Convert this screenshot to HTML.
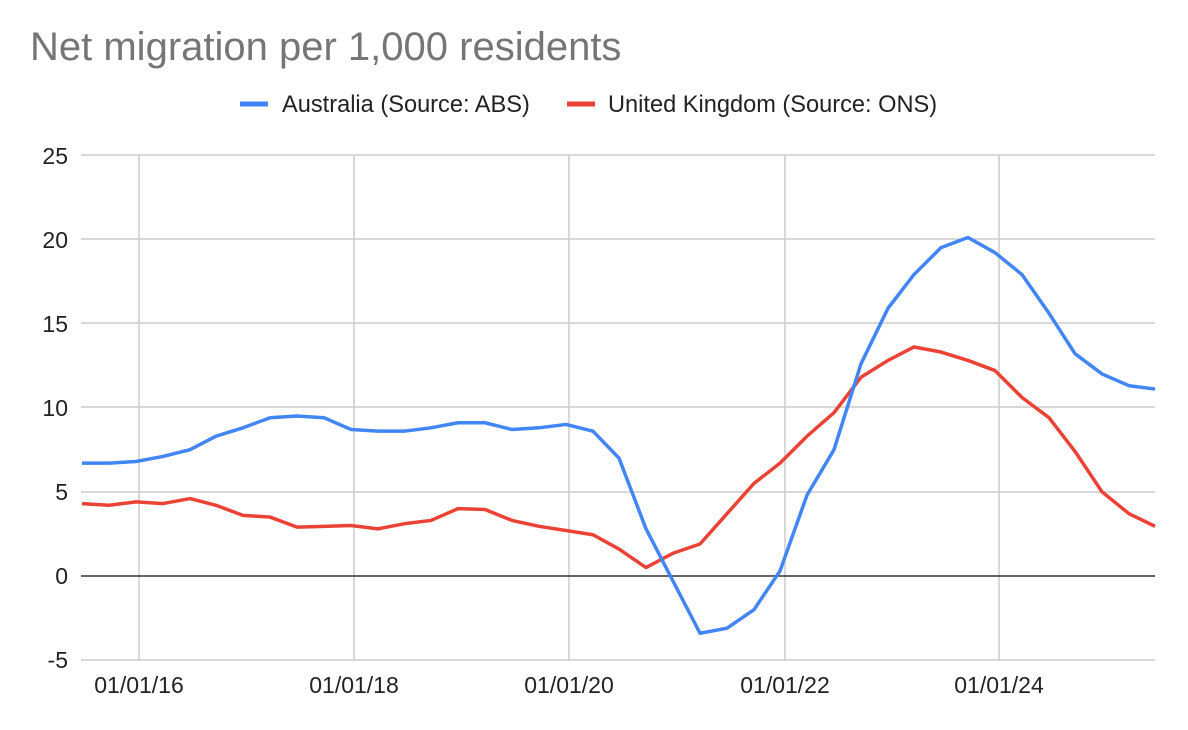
<!DOCTYPE html>
<html><head><meta charset="utf-8"><style>
body{margin:0;background:#fff;}
svg{display:block;font-family:"Liberation Sans",Arial,sans-serif;}
</style></head><body>
<svg width="1188" height="730" viewBox="0 0 1188 730">
<text x="30" y="60" font-size="40" fill="#757575">Net migration per 1,000 residents</text>
<line x1="240" y1="104" x2="268" y2="104" stroke="#4285f4" stroke-width="5"/>
<text x="282" y="112" font-size="23.6" fill="#222">Australia (Source: ABS)</text>
<line x1="567" y1="104" x2="595" y2="104" stroke="#ea4335" stroke-width="5"/>
<text x="608" y="112" font-size="23.6" fill="#222">United Kingdom (Source: ONS)</text>
<g stroke="#cccccc" stroke-width="1.5">
<line x1="81" y1="155" x2="1155" y2="155"/>
<line x1="81" y1="239" x2="1155" y2="239"/>
<line x1="81" y1="323" x2="1155" y2="323"/>
<line x1="81" y1="407" x2="1155" y2="407"/>
<line x1="81" y1="492" x2="1155" y2="492"/>
<line x1="81" y1="660" x2="1155" y2="660"/>
<line x1="139" y1="155" x2="139" y2="660"/>
<line x1="354" y1="155" x2="354" y2="660"/>
<line x1="569" y1="155" x2="569" y2="660"/>
<line x1="785" y1="155" x2="785" y2="660"/>
<line x1="999" y1="155" x2="999" y2="660"/>
</g>
<line x1="81" y1="576" x2="1155" y2="576" stroke="#333" stroke-width="1.5"/>
<g font-size="23" fill="#222" text-anchor="end">
<text x="68" y="164">25</text><text x="68" y="248">20</text><text x="68" y="332">15</text>
<text x="68" y="416">10</text><text x="68" y="500">5</text><text x="68" y="584">0</text><text x="68" y="668">-5</text>
</g>
<g font-size="23" fill="#222" text-anchor="middle">
<text x="139" y="693">01/01/16</text><text x="354" y="693">01/01/18</text><text x="569" y="693">01/01/20</text>
<text x="785" y="693">01/01/22</text><text x="999" y="693">01/01/24</text>
</g>
<g transform="translate(0,576) scale(1,-16.84)" fill="none" stroke-linejoin="round">
<polyline vector-effect="non-scaling-stroke" stroke="#ea4335" stroke-width="3.5" points="82,4.3 109,4.2 136,4.4 163,4.3 190,4.6 216,4.2 243,3.6 270,3.5 297,2.9 324,2.95 351,3.0 378,2.8 404,3.1 431,3.3 458,4.0 485,3.95 512,3.3 539,2.95 566,2.7 593,2.45 619,1.6 646,0.5 673,1.35 700,1.9 727,3.7 754,5.5 780,6.7 807,8.3 834,9.7 861,11.8 888,12.8 914,13.6 941,13.3 968,12.8 995,12.2 1022,10.6 1049,9.4 1075,7.4 1102,5.0 1129,3.7 1155,2.95"/>
<polyline vector-effect="non-scaling-stroke" stroke="#4285f4" stroke-width="3.5" points="82,6.7 109,6.7 136,6.8 163,7.1 190,7.5 216,8.3 243,8.8 270,9.4 297,9.5 324,9.4 351,8.7 378,8.6 404,8.6 431,8.8 458,9.1 485,9.1 512,8.7 539,8.8 566,9.0 593,8.6 619,7.0 646,2.8 673,-0.3 700,-3.4 727,-3.1 754,-2.0 780,0.3 807,4.8 834,7.5 861,12.6 888,15.9 914,17.9 941,19.5 968,20.1 995,19.2 1022,17.9 1049,15.6 1075,13.2 1102,12.0 1129,11.3 1155,11.1"/>
</g>
</svg>
</body></html>
